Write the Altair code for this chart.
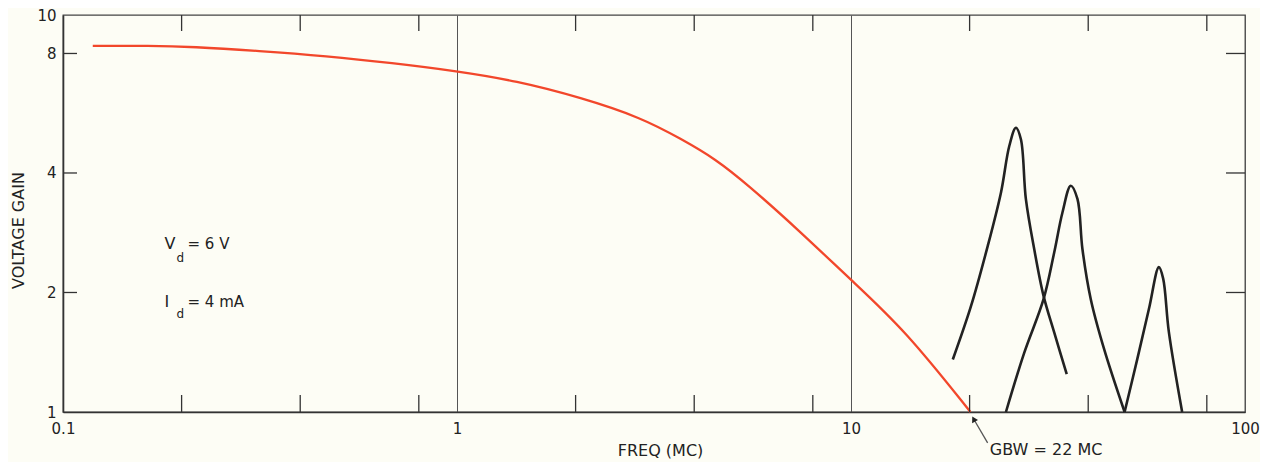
import altair as alt
import pandas as pd

# ---- data ----
red_freq = [0.119, 0.166, 0.213, 0.315, 0.466, 0.684, 1.0, 1.41, 2.07, 2.94, 3.71, 4.53, 5.48, 7.34, 10.0, 13.7, 20.1]
red_gain = [8.36, 8.37, 8.32, 8.12, 7.88, 7.57, 7.22, 6.83, 6.19, 5.51, 4.87, 4.34, 3.73, 2.88, 2.15, 1.61, 1.0]

p1_freq = [18.13, 20.16, 22.23, 24.02, 25.22, 26.21, 26.99, 27.79, 29.18, 30.81, 32.79, 35.28]
p1_gain = [1.356, 1.847, 2.617, 3.568, 4.677, 5.20, 4.864, 3.436, 2.57, 1.961, 1.586, 1.246]

p2_freq = [24.73, 27.53, 30.81, 32.79, 34.41, 36.12, 37.56, 38.67, 40.59, 43.88, 49.48]
p2_gain = [1.0, 1.411, 1.924, 2.522, 3.18, 3.715, 3.44, 2.574, 1.927, 1.442, 1.0]

p3_freq = [49.48, 53.30, 57.05, 60.46, 61.99, 64.08, 69.26]
p3_gain = [1.0, 1.361, 1.82, 2.317, 2.167, 1.591, 1.0]

x_label_vals = [0.1, 1, 10, 100]
y_label_vals = [1, 2, 4, 8, 10]
x_minor_ticks = [0.2, 0.4, 0.8, 2, 4, 8, 20, 40, 80]
y_minor_ticks = [2, 4, 8]

# ---- layout / style ----
W, H = 1182, 397
FONT = "DejaVu Sans"
INK = "#222222"
RED = "#f2472b"
BG = "#fdfdf5"

xs = alt.Scale(type="log", domain=[0.1, 100], nice=False)
ys = alt.Scale(type="log", domain=[1, 10], nice=False)

red_df = pd.DataFrame({"f": red_freq, "g": red_gain, "i": range(len(red_freq))})
peaks = []
for name, fx, gy in [("p1", p1_freq, p1_gain), ("p2", p2_freq, p2_gain), ("p3", p3_freq, p3_gain)]:
    for i, (a, b) in enumerate(zip(fx, gy)):
        peaks.append({"curve": name, "f": a, "g": b, "i": i})
peaks_df = pd.DataFrame(peaks)

X = lambda field="f:Q": alt.X(field, scale=xs)
Y = lambda field="g:Q": alt.Y(field, scale=ys)

red = alt.Chart(red_df).mark_line(color=RED, strokeWidth=2.3, interpolate="basis").encode(
    x=alt.X("f:Q", scale=xs, axis=alt.Axis(
        values=x_label_vals, format="~g", title="FREQ (MC)", grid=True, ticks=False,
        labelPadding=9, labelFontSize=15, labelFont=FONT, labelColor=INK,
        titleFont=FONT, titleFontSize=16, titleFontWeight="normal", titleColor=INK,
        titleX=597, titleY=38, titleAlign="center", titleBaseline="middle",
        gridColor="#555555", gridWidth=1, gridOpacity=1,
        domainColor="#333333", domainWidth=1.6, labelFlush=False)),
    y=alt.Y("g:Q", scale=ys, axis=alt.Axis(
        values=y_label_vals, format="~g", title="VOLTAGE GAIN", grid=False, ticks=False,
        labelPadding=7, labelFontSize=15, labelFont=FONT, labelColor=INK,
        titleFont=FONT, titleFontSize=16, titleFontWeight="normal", titleColor=INK,
        titleX=-45, titleY=215, titleAngle=270, titleAlign="center", titleBaseline="middle",
        domainColor="#333333", domainWidth=1.6, labelFlush=False)),
    order="i:Q",
)

peak_lines = alt.Chart(peaks_df).mark_line(color=INK, strokeWidth=2.6, interpolate="catmull-rom").encode(
    x=X(), y=Y(), detail="curve:N", order="i:Q",
)

xt_df = pd.DataFrame({"f": x_minor_ticks})
yt_df = pd.DataFrame({"g": y_minor_ticks})
tick_style = dict(color="#333333", strokeWidth=1.3)
top_ticks = alt.Chart(xt_df).mark_rule(**tick_style).encode(x=X(), y=alt.value(0), y2=alt.value(16))
bot_ticks = alt.Chart(xt_df).mark_rule(**tick_style).encode(x=X(), y=alt.value(H), y2=alt.value(H - 17))
left_ticks = alt.Chart(yt_df).mark_rule(**tick_style).encode(y=Y(), x=alt.value(0), x2=alt.value(14))
right_ticks = alt.Chart(yt_df).mark_rule(**tick_style).encode(y=Y(), x=alt.value(W), x2=alt.value(W - 19))

# annotations (text, freq, gain, font size)
annotations = [
    ("V", 0.181, 2.65, 16),
    ("d", 0.194, 2.45, 12),
    ("= 6 V", 0.207, 2.65, 15),
    ("I", 0.181, 1.89, 16),
    ("d", 0.194, 1.77, 12),
    ("= 4 mA", 0.207, 1.89, 15),
    ("GBW = 22 MC", 22.5, 0.80, 16),
]
texts = []
for t, fx, gy, sz in annotations:
    texts.append(
        alt.Chart(pd.DataFrame({"t": [t], "f": [fx], "g": [gy]}))
        .mark_text(align="left", baseline="middle", font=FONT, fontSize=sz, color=INK)
        .encode(x=X(), y=Y(), text="t:N")
    )

arrow_df = pd.DataFrame({"f": [22.22], "g": [0.836], "f2": [20.48], "g2": [0.960]})
head_df = pd.DataFrame({"f": [20.48], "g": [0.960]})
arrow_line = alt.Chart(arrow_df).mark_rule(color="#555555", strokeWidth=1.3).encode(
    x=X(), y=Y(), x2="f2:Q", y2="g2:Q")
arrow_head = alt.Chart(head_df).mark_point(
    shape="triangle-up", filled=True, size=45, angle=331, color=INK, opacity=1).encode(x=X(), y=Y())

chart = alt.layer(
    red, peak_lines, top_ticks, bot_ticks, left_ticks, right_ticks,
    arrow_line, arrow_head, *texts
).properties(
    width=W, height=H,
    padding={"left": 55, "top": 7, "right": 15, "bottom": 50},
    autosize=alt.AutoSizeParams(type="none"),
    background=BG,
).configure_view(stroke="#444444", strokeWidth=1.3)

chart.save("out.html", embed_options={"renderer": "svg", "actions": False})
